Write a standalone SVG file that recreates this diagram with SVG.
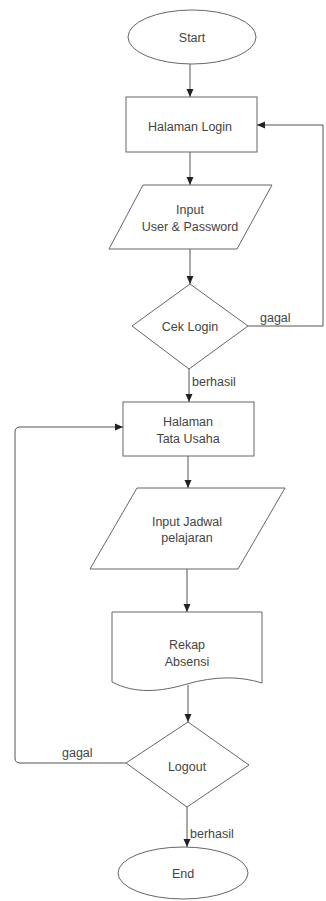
<svg xmlns="http://www.w3.org/2000/svg" width="326" height="901" viewBox="0 0 326 901">
<defs>
<marker id="arr" markerUnits="userSpaceOnUse" markerWidth="8" markerHeight="8" viewBox="0 0 8 8" refX="8" refY="4" orient="auto">
<path d="M0,0.5 L8,4 L0,7.5 Z" fill="#222"/>
</marker>
</defs>
<style>
.shape{fill:#fff;stroke:#666;stroke-width:1}
.conn{fill:none;stroke:#555;stroke-width:1}
.t{font-family:"Liberation Sans",Arial,sans-serif;font-size:12.5px;fill:#444;text-anchor:middle}
.l{font-family:"Liberation Sans",Arial,sans-serif;font-size:12.5px;fill:#444}
</style>
<rect width="326" height="901" fill="#fff"/>
<g id="connectors">
<line class="conn" x1="190" y1="64" x2="190" y2="97" marker-end="url(#arr)"/>
<line class="conn" x1="190" y1="152" x2="190" y2="185" marker-end="url(#arr)"/>
<line class="conn" x1="190" y1="249" x2="190" y2="284" marker-end="url(#arr)"/>
<path class="conn" d="M248,326 H323 V125 H257" marker-end="url(#arr)"/>
<line class="conn" x1="189" y1="369" x2="189" y2="402" marker-end="url(#arr)"/>
<line class="conn" x1="188" y1="456" x2="188" y2="488" marker-end="url(#arr)"/>
<line class="conn" x1="187" y1="569" x2="187" y2="612" marker-end="url(#arr)"/>
<line class="conn" x1="188" y1="685" x2="188" y2="722" marker-end="url(#arr)"/>
<path class="conn" d="M126,763 H20 Q15,763 15,758 V432 Q15,427 20,427 H123" marker-end="url(#arr)"/>
<line class="conn" x1="187" y1="807" x2="187" y2="847" marker-end="url(#arr)"/>
<text class="l" x="260" y="322">gagal</text>
<text class="l" x="192" y="386">berhasil</text>
<text class="l" x="62" y="757">gagal</text>
<text class="l" x="190" y="838">berhasil</text>
</g>
<g id="start">
<ellipse class="shape" cx="192" cy="37" rx="64" ry="27"/>
<text class="t" x="192" y="42">Start</text>
</g>
<g id="halaman-login">
<rect class="shape" x="126" y="97" width="131" height="55"/>
<text class="t" x="190" y="131">Halaman Login</text>
</g>
<g id="input-user">
<polygon class="shape" points="143,185 272,185 237,249 109,249"/>
<text class="t" x="190" y="214">Input</text>
<text class="t" x="190" y="231">User &amp; Password</text>
</g>
<g id="cek-login">
<polygon class="shape" points="190,284 248,326 189,369 132,326"/>
<text class="t" x="190" y="331">Cek Login</text>
</g>
<g id="halaman-tu">
<rect class="shape" x="123" y="402" width="131" height="54"/>
<text class="t" x="188" y="426">Halaman</text>
<text class="t" x="188" y="443">Tata Usaha</text>
</g>
<g id="input-jadwal">
<polygon class="shape" points="137,488 285,488 238,569 90,569"/>
<text class="t" x="187" y="526">Input Jadwal</text>
<text class="t" x="187" y="542">pelajaran</text>
</g>
<g id="rekap">
<path class="shape" d="M112,612 H262 V683 C240,676 215,676 187,684 C160,692 135,694 112,682 Z"/>
<text class="t" x="187" y="649">Rekap</text>
<text class="t" x="187" y="666">Absensi</text>
</g>
<g id="logout">
<polygon class="shape" points="188,722 249,765 187,807 126,763"/>
<text class="t" x="187" y="771">Logout</text>
</g>
<g id="end">
<ellipse class="shape" cx="183" cy="873" rx="65" ry="26"/>
<text class="t" x="183" y="878">End</text>
</g>
</svg>
